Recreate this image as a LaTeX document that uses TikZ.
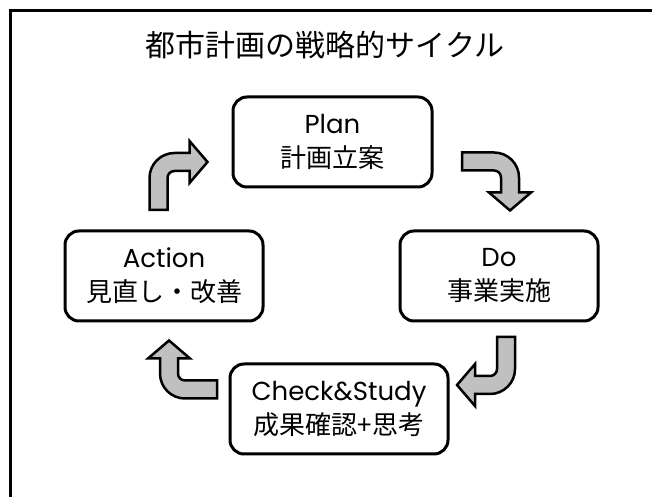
\documentclass[tikz,border=0pt]{standalone}
\usepackage{fontspec}
\setmainfont{Poppins}
\newfontfamily\jp{Noto Sans CJK JP}
\usetikzlibrary{positioning}
\definecolor{arrowgray}{HTML}{C0C0C0}

\begin{document}
\begin{tikzpicture}[x=1pt,y=1pt,
  stage/.style={draw,line width=3pt,rounded corners=14pt,fill=white,
    minimum height=90pt,align=center,font=\fontsize{26}{34}\selectfont},
  blockarrow/.style={draw,line width=2.5pt,fill=arrowgray,line join=miter}]
\useasboundingbox (0,0) rectangle (652,497);
% frame, running off the page
\draw[line width=3pt] (10,-10) -- (10,486) -- (670,486);
\node[font=\jp\fontsize{30}{36}\selectfont] (title) at (325,452) {都市計画の戦略的サイクル};
% the four stages
\node[stage,minimum width=199pt] (plan) at (332.5,355) {Plan\\{\jp 計画立案}};
\node[stage,minimum width=198pt] (do) at (499,221) {Do\\{\jp 事業実施}};
\node[stage,minimum width=198pt] (act) at (164,221) {Action\\{\jp 見直し・改善}};
\node[stage,minimum width=218pt] (check) at (339,88) {Check\&Study\\{\jp 成果確認+思考}};
% bent arrows between the stages
\foreach \sx/\sy/\ang in {158.5/287/0, 462/335.5/-90, 506/160/180, 217/107.5/90}{
  \draw[blockarrow,shift={(\sx,\sy)},rotate=\ang]
    (-9,0) -- (-9,32) arc (180:90:25) -- (31,57) -- (31,69) -- (49,48)
    -- (31,27) -- (31,39) -- (16,39) arc (90:180:7) -- (9,0) -- cycle;
}
\end{tikzpicture}
\end{document}
